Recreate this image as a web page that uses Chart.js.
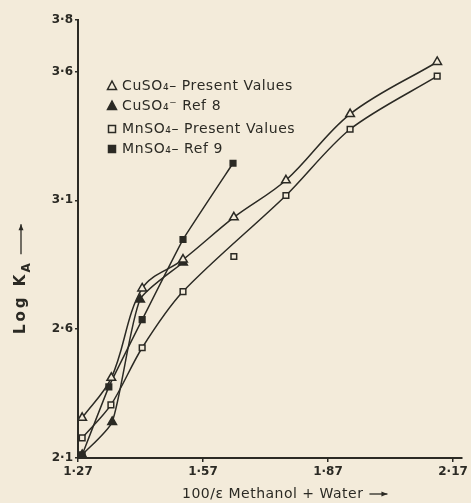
<!DOCTYPE html>
<html>
<head>
<meta charset="utf-8">
<script src="https://cdn.jsdelivr.net/npm/chart.js@4.4.0/dist/chart.umd.min.js"></script>
<style>
  html, body { margin: 0; padding: 0; background: #f3ebda; }
  #wrap { width: 471px; height: 503px; }
</style>
</head>
<body>
<div id="wrap"><canvas id="chart" width="471" height="503"></canvas></div>
<script>
// --- DATA ---
const xTicks = [1.27, 1.57, 1.87, 2.17];
const yTicks = [2.1, 2.6, 3.1, 3.6, 3.8];

// CuSO4 - present values (open triangles)
const cuPresentX = [1.28, 1.35, 1.424, 1.522, 1.644, 1.769, 1.923, 2.132];
const cuPresentY = [2.256, 2.411, 2.758, 2.870, 3.034, 3.178, 3.435, 3.637];

// CuSO4 - Ref 8 (filled triangles)
const cuRefX = [1.28, 1.352, 1.419, 1.522];
const cuRefY = [2.112, 2.240, 2.715, 2.859];

// MnSO4 - present values (open squares)
const mnPresentX = [1.28, 1.349, 1.424, 1.522, 1.769, 1.923, 2.132];
const mnPresentY = [2.178, 2.306, 2.528, 2.746, 3.119, 3.376, 3.582];
// one MnSO4 point sits off the drawn curve
const mnOffCurveX = [1.644];
const mnOffCurveY = [2.882];

// MnSO4 - Ref 9 (filled squares)
const mnRefX = [1.28, 1.344, 1.424, 1.522, 1.642];
const mnRefY = [2.112, 2.376, 2.637, 2.948, 3.244];

const legendLabels = [
  { text: "CuSO₄– Present Values", shape: "triangle", filled: false },
  { text: "CuSO₄⁻ Ref 8", shape: "triangle", filled: true },
  { text: "MnSO₄– Present Values", shape: "rect", filled: false },
  { text: "MnSO₄– Ref 9", shape: "rect", filled: true },
];

// --- STYLE ---
const INK = "#2b2a24";
const PAPER = "#f3ebda";
const pts = (xs, ys) => xs.map((x, i) => ({ x: x, y: ys[i] }));
const fmt = (v, d) => v.toFixed(d).replace(".", "·");

function series(data, shape, filled, tension, showLine = true) {
  return {
    data: data,
    showLine: showLine,
    borderColor: INK,
    borderWidth: 1.5,
    tension: tension,
    pointStyle: shape,
    pointRadius: shape === "triangle" ? 5 : 4,
    pointBorderWidth: 1.5,
    pointBorderColor: INK,
    pointBackgroundColor: filled ? INK : PAPER,
  };
}

function drawMarker(ctx, shape, filled, x, y) {
  ctx.beginPath();
  if (shape === "triangle") {
    ctx.moveTo(x, y - 5);
    ctx.lineTo(x + 4.5, y + 3.5);
    ctx.lineTo(x - 4.5, y + 3.5);
    ctx.closePath();
  } else {
    ctx.rect(x - 3.5, y - 3.5, 7, 7);
  }
  ctx.fillStyle = filled ? INK : PAPER;
  ctx.fill();
  ctx.lineWidth = 1.5;
  ctx.strokeStyle = INK;
  ctx.stroke();
}

function arrow(ctx, x1, y1, x2, y2) {
  ctx.beginPath();
  ctx.moveTo(x1, y1);
  ctx.lineTo(x2, y2);
  ctx.lineWidth = 1.3;
  ctx.strokeStyle = INK;
  ctx.stroke();
  const a = Math.atan2(y2 - y1, x2 - x1);
  ctx.beginPath();
  ctx.moveTo(x2, y2);
  ctx.lineTo(x2 - 6 * Math.cos(a) + 2.5 * Math.sin(a), y2 - 6 * Math.sin(a) - 2.5 * Math.cos(a));
  ctx.lineTo(x2 - 6 * Math.cos(a) - 2.5 * Math.sin(a), y2 - 6 * Math.sin(a) + 2.5 * Math.cos(a));
  ctx.closePath();
  ctx.fillStyle = INK;
  ctx.fill();
}

const paperPlugin = {
  id: "paper",
  beforeDraw(chart) {
    const ctx = chart.ctx;
    ctx.save();
    ctx.fillStyle = PAPER;
    ctx.fillRect(0, 0, chart.width, chart.height);
    ctx.restore();
  },
  afterDraw(chart) {
    const ctx = chart.ctx;
    ctx.save();
    ctx.fillStyle = INK;
    ctx.textBaseline = "middle";

    // legend inside the plot
    ctx.font = "14px 'DejaVu Sans'";
    ctx.letterSpacing = "0.6px";
    const rows = [86, 106, 129, 149];
    legendLabels.forEach((l, i) => {
      drawMarker(ctx, l.shape, l.filled, 112, rows[i]);
      ctx.fillStyle = INK;
      ctx.fillText(l.text, 122, rows[i]);
    });

    // x axis title
    ctx.font = "14px 'DejaVu Sans'";
    ctx.letterSpacing = "0.5px";
    const xt = "100/ε Methanol + Water";
    ctx.fillText(xt, 182, 494);
    const w = ctx.measureText(xt).width;
    arrow(ctx, 182 + w + 6, 494, 182 + w + 24, 494);

    // y axis title, rotated
    ctx.translate(21, 334);
    ctx.rotate(-Math.PI / 2);
    ctx.font = "bold 15px 'DejaVu Sans'";
    ctx.letterSpacing = "3px";
    ctx.fillStyle = INK;
    ctx.fillText("Log K", 0, 0);
    const w1 = ctx.measureText("Log K").width;
    ctx.font = "bold 12px 'DejaVu Sans'";
    ctx.letterSpacing = "0px";
    ctx.fillText("A", w1 - 1, 6);
    const w2 = ctx.measureText("A").width;
    arrow(ctx, w1 + w2 + 8, 0, w1 + w2 + 38, 0);
    ctx.restore();
  },
};

Chart.defaults.font.family = "'DejaVu Sans'";
Chart.defaults.color = INK;

new Chart(document.getElementById("chart"), {
  type: "scatter",
  data: {
    datasets: [
      series(pts(cuPresentX, cuPresentY), "triangle", false, 0.35),
      series(pts(cuRefX, cuRefY), "triangle", true, 0.2),
      series(pts(mnPresentX, mnPresentY), "rect", false, 0.3),
      series(pts(mnOffCurveX, mnOffCurveY), "rect", false, 0, false),
      series(pts(mnRefX, mnRefY), "rect", true, 0.1),
    ],
  },
  options: {
    responsive: false,
    animation: false,
    layout: { padding: { top: 20, right: 8, left: 0, bottom: 0 } },
    plugins: {
      legend: { display: false },
      tooltip: { enabled: false },
    },
    scales: {
      x: {
        type: "linear",
        min: 1.27,
        max: 2.19,
        afterBuildTicks: (s) => { s.ticks = xTicks.map((v) => ({ value: v })); },
        afterFit: (s) => { s.height = 45; },
        border: { display: true, color: INK, width: 2 },
        grid: { drawOnChartArea: false, drawTicks: true, tickLength: 4, color: INK, lineWidth: 1.5 },
        ticks: {
          padding: 3,
          font: { size: 12, weight: "bold" },
          callback: (v) => fmt(v, 2),
        },
      },
      y: {
        type: "linear",
        min: 2.1,
        max: 3.8,
        afterBuildTicks: (s) => { s.ticks = yTicks.map((v) => ({ value: v })); },
        afterFit: (s) => { s.width = 78; },
        border: { display: true, color: INK, width: 2 },
        grid: { drawOnChartArea: false, drawTicks: true, tickLength: 3, color: INK, lineWidth: 1.5 },
        ticks: {
          padding: 2,
          font: { size: 12, weight: "bold" },
          callback: (v) => fmt(v, 1),
        },
      },
    },
  },
  plugins: [paperPlugin],
});
</script>
</body>
</html>
